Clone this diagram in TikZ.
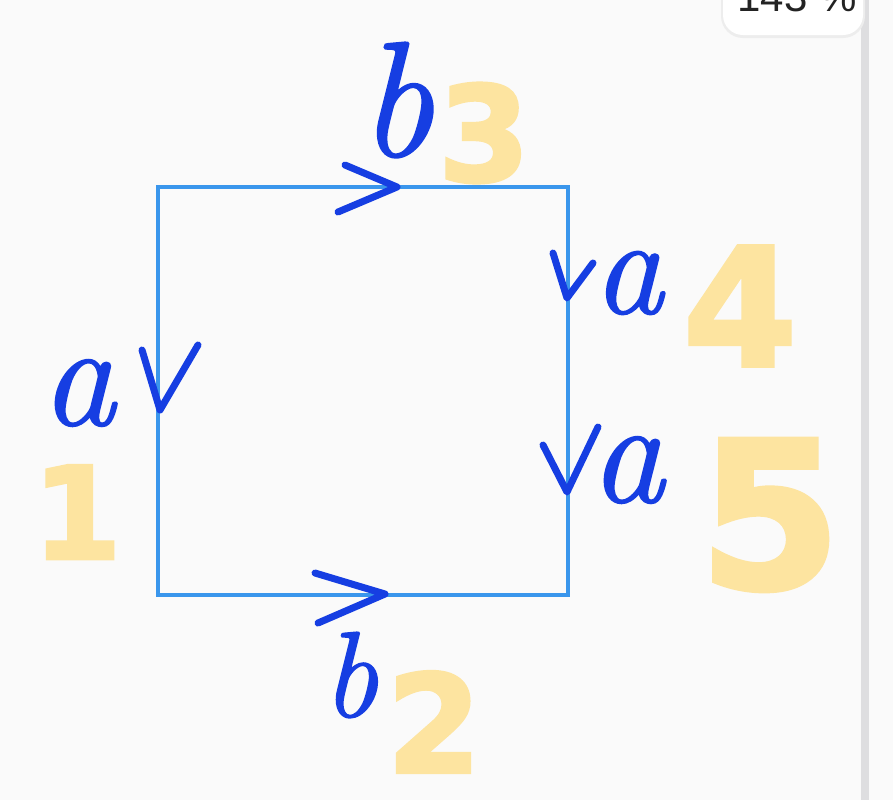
\documentclass[tikz,border=0pt]{standalone}
\usepackage{fontspec}
\newfontfamily\markerfont[BoldFeatures={FakeBold=2.5}]{DejaVu Sans}
\newfontfamily\badgefont{Liberation Sans}
\newfontfamily\handfont[ItalicFeatures={FakeBold=1.2}]{Latin Modern Roman}
\definecolor{paper}{RGB}{250, 250, 250}
\definecolor{edgeblue}{RGB}{58, 150, 236}
\definecolor{inkblue}{RGB}{22, 62, 226}
\definecolor{marker}{RGB}{253, 228, 160}
\definecolor{badgegray}{RGB}{35, 35, 35}
\definecolor{scrollgray}{RGB}{222, 222, 224}

\begin{document}
\begin{tikzpicture}[x=0.5pt, y=-0.5pt,
  edge/.style={draw=edgeblue, line width=2pt},
  tick/.style={draw=inkblue, line width=3.5pt, line cap=round, line join=round},
  letter/.style={text=inkblue, inner sep=0pt, font=\handfont\itshape\fontsize{#1}{#1}\selectfont},
  numeral/.style={text=marker, inner sep=0pt, font=\markerfont\bfseries\fontsize{#1}{#1}\selectfont}]

  % Page and screen chrome
  \useasboundingbox (0, 0) rectangle (893, 800);
  \clip (0, 0) rectangle (893, 800);
  \fill[paper] (0, 0) rectangle (893, 800);
  \fill[scrollgray] (861, 0) rectangle (869, 800);
  \fill[black!7, rounded corners=11pt] (721, -40) rectangle (865, 38);
  \fill[white, rounded corners=10pt] (723, -40) rectangle (863, 35);
  \node[font=\badgefont\fontsize{21}{21}\selectfont, text=badgegray] (zoom) at (797, -3) {143 \%};

  % Square
  \draw[edge] (158, 187) rectangle (568, 595);

  % Hand-drawn arrow ticks
  \draw[tick] (345, 165) -- (397, 187) -- (338, 212);
  \draw[tick] (553, 253) -- (567, 298) -- (593, 263);
  \draw[tick] (543, 445) -- (567, 492) -- (598, 427);
  \draw[tick] (142, 350) -- (160, 410) -- (198, 345);
  \draw[tick] (315, 573) -- (385, 594) -- (318, 623);

  % Edge letters
  \node[letter=82] (btop) at (396, 100) {b};
  \node[letter=70] (aright) at (628, 283) {a};
  \node[letter=74] (alower) at (627, 470) {a};
  \node[letter=74] (aleft) at (78, 393) {a};
  \node[letter=61] (bbottom) at (350, 675) {b};

  % Highlighted numbers
  \node[numeral=64] (one) at (77, 512) {1};
  \node[numeral=68] (two) at (434, 722) {2};
  \node[numeral=66] (three) at (484, 133) {3};
  \node[numeral=82] (four) at (740, 306) {4};
  \node[numeral=102] (five) at (770, 515) {5};
\end{tikzpicture}
\end{document}
